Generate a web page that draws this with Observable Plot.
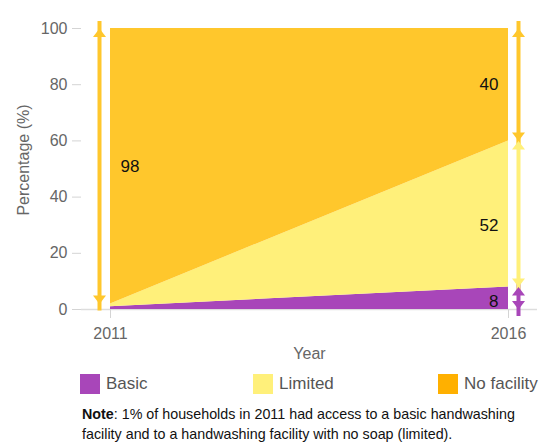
<!DOCTYPE html>
<html>
<head>
<meta charset="utf-8">
<script src="https://cdn.jsdelivr.net/npm/d3@7"></script>
<script src="https://cdn.jsdelivr.net/npm/@observablehq/plot@0.6"></script>
<style>
  body { margin: 0; background: #fff; font-family: "Liberation Sans", Arial, sans-serif; }
  #wrap { position: relative; width: 547px; height: 448px; }
  .leg { position: absolute; top: 374px; display: flex; align-items: center; font-size: 17px; color: #555; height: 20px; }
  .sw { width: 20px; height: 20px; margin-right: 6px; }
  #note { position: absolute; left: 82px; top: 404px; font-size: 14.3px; line-height: 20px; color: #111; white-space: nowrap; }
</style>
</head>
<body>
<div id="wrap">
  <div id="chart"></div>
  <div id="legend"></div>
  <div id="note"><b>Note</b>: 1% of households in 2011 had access to a basic handwashing<br>facility and to a handwashing facility with no soap (limited).</div>
</div>
<script>
// ---- data ----
const years = [2011, 2016];
const categories = ["Basic", "Limited", "No facility"];
const basic = [1, 8];
const limited = [1, 52];
const noFacility = [98, 40];
const yTicks = [0, 20, 40, 60, 80, 100];
// label heights (No facility 2011; Basic, Limited, No facility 2016)
const labelY2011 = [51];
const labelY2016 = [3, 30, 80];
const areaColors = ["#A846B9", "#FFF07A", "#FFC72C"];
const legendColors = ["#A846B9", "#FFF07A", "#FFB000"];

// long table for stacking
const series = [basic, limited, noFacility];
const table = [];
categories.forEach((c, i) => years.forEach((yr, j) => table.push({year: yr, type: c, value: series[i][j]})));

// stacked extents at each year
function segments(j) {
  let base = 0;
  return categories.map((c, i) => {
    const s = {year: years[j], type: c, y1: base, y2: base + series[i][j], value: series[i][j]};
    base += series[i][j];
    return s;
  });
}
const segs2016 = segments(1).map((d, i) => ({...d, mid: labelY2016[i]}));
const segs2011 = segments(0).filter(d => d.type === "No facility").map((d, i) => ({...d, mid: labelY2011[i]}));

// arrowhead symbols (tip at origin)
const upTri = {draw(ctx) { ctx.moveTo(0, 0); ctx.lineTo(6.5, 8.5); ctx.lineTo(-6.5, 8.5); ctx.closePath(); }};
const downTri = {draw(ctx) { ctx.moveTo(0, 0); ctx.lineTo(6.5, -8.5); ctx.lineTo(-6.5, -8.5); ctx.closePath(); }};

function arrowMarks(data, dx) {
  return [
    Plot.ruleX(data, {x: "year", y1: "y1", y2: "y2", dx, stroke: "type", strokeWidth: 4, strokeLinecap: "butt", insetTop: 7, insetBottom: 7}),
    Plot.dot(data, {x: "year", y: "y2", dx, symbol: upTri, fill: "type", r: 6, stroke: null, strokeWidth: 0}),
    Plot.dot(data, {x: "year", y: "y1", dx, symbol: downTri, fill: "type", r: 6, stroke: null, strokeWidth: 0})
  ];
}

const chart = Plot.plot({
  width: 547,
  height: 365,
  marginLeft: 81,
  marginRight: 10,
  marginTop: 10,
  marginBottom: 56,
  style: {fontFamily: "'Liberation Sans', Arial, sans-serif", fontSize: "16px", color: "#666", background: "#fff"},
  x: {domain: [2011, 2016], range: [110, 508]},
  y: {domain: [0, 106.4]},
  color: {domain: categories, range: areaColors},
  marks: [
    Plot.ruleY([0], {stroke: "#ddd", strokeWidth: 1.5}),
    Plot.axisY({ticks: yTicks, tickSize: 9, tickPadding: 5, stroke: "#d4d4d4", fill: "#666", label: null}),
    Plot.axisY({ticks: [], tickSize: 0, label: "Percentage (%)", labelArrow: false, labelAnchor: "center", labelOffset: 64, fill: "#666", stroke: "#d4d4d4", line: true, strokeWidth: 1.5}),
    Plot.axisX({ticks: years, tickFormat: "d", tickSize: 9, tickPadding: 9, stroke: "#d4d4d4", fill: "#666", label: "Year", labelArrow: false, labelAnchor: "center", labelOffset: 49}),
    Plot.areaY(table, {x: "year", y: "value", fill: "type", order: categories}),
    ...arrowMarks(segs2011, -11),
    ...arrowMarks(segs2016, 10),
    Plot.text(segs2011, {x: "year", y: "mid", text: "value", textAnchor: "start", dx: 10, fill: "#111", fontSize: 17}),
    Plot.text(segs2016, {x: "year", y: "mid", text: "value", textAnchor: "end", dx: -10, fill: "#111", fontSize: 17})
  ]
});
document.getElementById("chart").appendChild(chart);

// legend
const legendLeft = [80, 253, 438];
const legend = document.getElementById("legend");
categories.forEach((c, i) => {
  const item = document.createElement("div");
  item.className = "leg";
  item.style.left = legendLeft[i] + "px";
  const sw = document.createElement("div");
  sw.className = "sw";
  sw.style.background = legendColors[i];
  const t = document.createElement("span");
  t.textContent = c;
  item.appendChild(sw);
  item.appendChild(t);
  legend.appendChild(item);
});
</script>
</body>
</html>
